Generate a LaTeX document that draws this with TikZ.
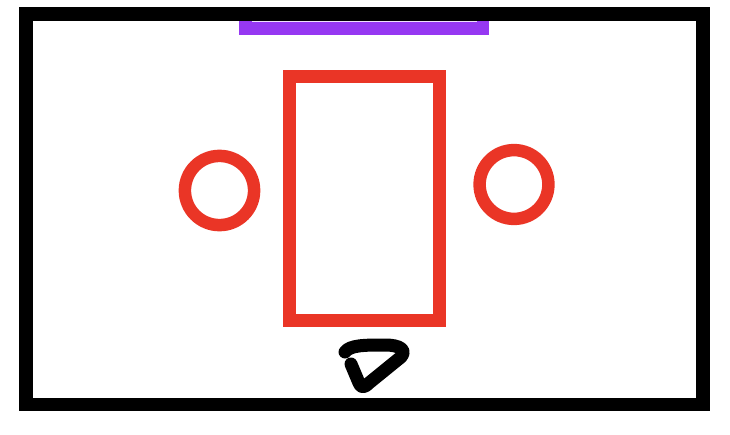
\documentclass[tikz,border=0pt]{standalone}
\usepackage{tikz}

\definecolor{tablered}{RGB}{234,53,38}
\definecolor{screenpurple}{RGB}{150,56,242}

\begin{document}
\begin{tikzpicture}[x=1pt,y=-1pt,line join=miter]
  \tikzstyle{wall}=[draw=black,line width=13.5pt]
  \tikzstyle{furniture}=[draw=tablered,line width=13pt]
  \tikzstyle{seat}=[draw=tablered,line width=12.5pt]
  \tikzstyle{scribble}=[draw=black,line width=13pt,line cap=round,line join=round]

  \useasboundingbox (0,0) rectangle (730,434);

  % screen on the top wall
  \fill[screenpurple] (239,20) rectangle (489,35);
  \draw[white!85!screenpurple,line width=1.5pt] (252,21.6) -- (477,21.6);

  % room
  \draw[wall] (26,14) rectangle (703,404.5);

  % table and chairs
  \draw[furniture] (289.2,76.7) rectangle (439.7,320.8);
  \draw[seat] (219.5,190.5) circle (34.6);
  \draw[seat] (514,184.5) circle (34.4);

  % mark below the table
  \draw[scribble] (345,352) .. controls (350,345) and (365,345) .. (385,345)
    .. controls (400,345) and (407,350) .. (401,357)
    -- (369,383) .. controls (364,388) and (361,388) .. (359,383)
    -- (351,364);
\end{tikzpicture}
\end{document}
